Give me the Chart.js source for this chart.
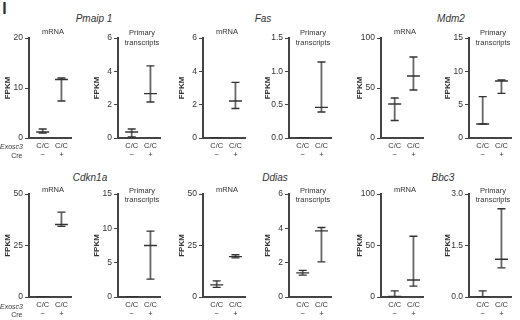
<!DOCTYPE html>
<html>
<head>
<meta charset="utf-8">
<script src="https://cdn.jsdelivr.net/npm/chart.js@4.4.1/dist/chart.umd.min.js"></script>
<style>
  body { margin: 0; background: #fff; }
  #fig { position: relative; width: 520px; height: 320px; overflow: hidden; font-family: 'Liberation Sans', Arial, sans-serif; color: #333; }
  #fig canvas { position: absolute; }
  .lbl { position: absolute; transform: translate(-50%, -50%); white-space: nowrap; line-height: 1; text-align: center; }
  .gene { font-style: italic; font-size: 10px; }
  .sub { font-size: 7.5px; line-height: 9.5px; }
  .side { position: absolute; left: 0; width: 22.5px; text-align: right; font-size: 7px; line-height: 1; transform: translateY(-50%); }
</style>
</head>
<body>
<div id="fig"></div>
<script>
const genes = ['Pmaip 1', 'Fas', 'Mdm2', 'Cdkn1a', 'Ddias', 'Bbc3'];
const kinds = [['mRNA'], ['Primary', 'transcripts']];
const categories = ['C/C', 'C/C'];
const cre = ['−', '+'];

// one row per panel, gene by gene: mRNA, then primary transcripts
const yTicks = [
    [0, 10, 20], [0, 2, 4, 6],
    [0, 2, 4, 6], [0, 0.5, 1.0, 1.5],
    [0, 50, 100], [0, 5, 10, 15],
    [0, 25, 50], [0, 5, 10, 15],
    [0, 25, 50], [0, 2, 4, 6],
    [0, 50, 100], [0, 1.5, 3.0]
];
const yDecimals = [0, 0, 0, 1, 0, 0, 0, 0, 0, 0, 0, 1];

// values for Cre - and Cre +
const means = [
    [1.2, 11.7], [0.36, 2.66],
    [0, 2.22], [0, 0.46],
    [34, 62], [2.1, 8.55],
    [0, 35.2], [0, 7.5],
    [5.9, 19.6], [1.4, 3.85],
    [0.5, 16.5], [0, 1.1]
];
const lows = [
    [1.0, 7.4], [0.06, 2.16],
    [0, 1.77], [0, 0.39],
    [17.5, 48], [2.1, 6.7],
    [0, 34.3], [0, 2.6],
    [4.7, 19.0], [1.28, 2.05],
    [0, 10.5], [0, 0.85]
];
const highs = [
    [1.8, 12.0], [0.54, 4.33],
    [0, 3.34], [0, 1.14],
    [40, 81], [6.2, 8.7],
    [0, 41.2], [0, 9.6],
    [7.8, 20.5], [1.55, 4.05],
    [6, 59], [0.18, 2.57]
];

const fig = document.getElementById('fig');
const axisX = [29, 118, 203, 289, 381, 469];
const geneCenters = [[94, 19], [263, 19], [451, 19], [90, 178], [275, 178], [443, 178]];
const Y_W = 28;

Chart.defaults.font.family = "'Liberation Sans', Arial, sans-serif";
Chart.defaults.color = '#333';

function addText(cls, html, x, y) {
    const d = document.createElement('div');
    d.className = cls;
    d.innerHTML = html;
    d.style.left = x + 'px';
    d.style.top = y + 'px';
    fig.appendChild(d);
}

function makePanel(p) {
    const g = Math.floor(p / 2), k = p % 2;
    const row = g < 3 ? 0 : 1;
    const col = (g % 3) * 2 + k;
    const top = row ? 186 : 30;
    const h = row ? 134 : 130;

    const canvas = document.createElement('canvas');
    canvas.width = 78;
    canvas.height = h;
    canvas.style.left = (axisX[col] - Y_W) + 'px';
    canvas.style.top = top + 'px';
    fig.appendChild(canvas);

    const pts = arr => categories.map((c, i) => ({ x: i + 1, y: arr[p][i] }));
    const datasets = [
        { data: pts(means), pointStyle: 'line', pointRadius: 6.5, pointBorderColor: '#333', pointBorderWidth: 1.3, showLine: false },
        { data: pts(lows).concat(pts(highs)), pointStyle: 'line', pointRadius: 4, pointBorderColor: '#333', pointBorderWidth: 1.3, showLine: false }
    ];
    categories.forEach((c, i) => {
        datasets.push({
            data: [{ x: i + 1, y: lows[p][i] }, { x: i + 1, y: highs[p][i] }],
            showLine: true, borderColor: '#666', borderWidth: 1.8, pointRadius: 0
        });
    });

    const ticks = yTicks[p];
    new Chart(canvas, {
        type: 'scatter',
        data: { datasets },
        options: {
            responsive: false,
            animation: false,
            devicePixelRatio: 1,
            events: [],
            layout: { padding: { top: 8, right: 2, left: 0, bottom: 0 } },
            plugins: { legend: { display: false }, tooltip: { enabled: false } },
            scales: {
                x: {
                    type: 'linear', min: 0.27, max: 2.52,
                    afterBuildTicks: s => { s.ticks = categories.map((c, i) => ({ value: i + 1 })); },
                    afterFit: s => { s.height = row ? 23 : 22; },
                    grid: { display: false, drawTicks: false },
                    border: { color: '#444', width: 2 },
                    ticks: {
                        padding: 3, autoSkip: false, maxRotation: 0,
                        font: { size: 7.5, lineHeight: 1.2 },
                        callback: (v, i) => [categories[i], cre[i]]
                    }
                },
                y: {
                    min: 0, max: ticks[ticks.length - 1],
                    afterBuildTicks: s => { s.ticks = ticks.map(v => ({ value: v })); },
                    afterFit: s => { s.width = Y_W; },
                    grid: { drawOnChartArea: false, drawTicks: true, tickLength: 4, color: '#444', lineWidth: 1 },
                    border: { color: '#444', width: 2 },
                    ticks: { padding: 2, font: { size: 8.5 }, callback: v => Number(v).toFixed(yDecimals[p]) },
                    title: {
                        display: true, text: 'FPKM',
                        font: { size: 8, weight: 'bold', family: "'Liberation Sans Narrow', 'Liberation Sans', Arial, sans-serif" },
                        padding: { top: 2, bottom: 0 }
                    }
                }
            }
        }
    });

    // panel heading above the plot
    const cx = axisX[col] + 24;
    if (k === 0) addText('lbl sub', kinds[0][0], cx, row ? 190 : 31.7);
    else addText('lbl sub', kinds[1].join('<br>'), cx, row ? 194.7 : 37.3);
}

addText('lbl', '<b>I</b>', 4.5, 8.5);
genes.forEach((gene, g) => addText('lbl gene', gene, geneCenters[g][0], geneCenters[g][1]));
for (let p = 0; p < 12; p++) makePanel(p);

[[146, 155], [305.7, 314.3]].forEach(([y1, y2]) => {
    const a = document.createElement('div');
    a.className = 'side';
    a.innerHTML = '<i>Exosc3</i>';
    a.style.top = y1 + 'px';
    fig.appendChild(a);
    const b = document.createElement('div');
    b.className = 'side';
    b.textContent = 'Cre';
    b.style.top = y2 + 'px';
    fig.appendChild(b);
});
</script>
</body>
</html>
